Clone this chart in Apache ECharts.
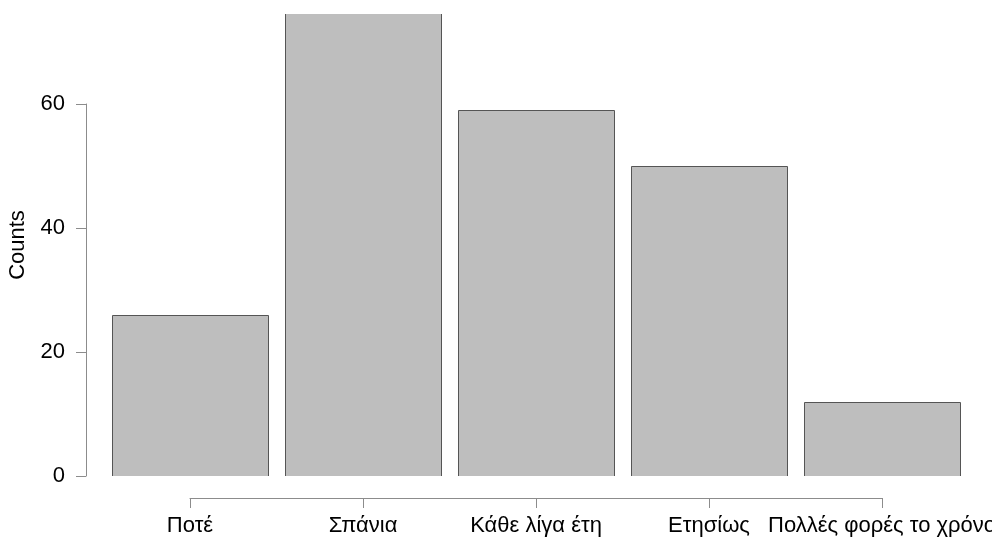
<!DOCTYPE html>
<html><head><meta charset="utf-8">
<script src="https://cdn.jsdelivr.net/npm/echarts@6/dist/echarts.min.js"></script>
<style>html,body{margin:0;padding:0;background:#fff}#c{width:992px;height:539px}</style>
</head><body><div id="c"></div>
<script>
const categories = ['Ποτέ', 'Σπάνια', 'Κάθε λίγα έτη', 'Ετησίως', 'Πολλές φορές το χρόνο'];
const counts = [26, 80, 59, 50, 12];
const yTicks = [0, 20, 40, 60];

const FONT = 'Liberation Sans, Arial, Helvetica, sans-serif';
const FS = 22;
const axisMax = yTicks[yTicks.length - 1];
// main plot spans y px 14..476, axis 0..60 spans 104..476
const plotMax = axisMax * (476 - 14) / (476 - 104);
const barFrac = 156 / 173;

const chart = echarts.init(document.getElementById('c'), null, {renderer: 'canvas'});
chart.setOption({
  animation: false,
  backgroundColor: '#ffffff',
  grid: [
    {left: 103.5, right: 23.5, top: 14, bottom: 63, containLabel: false, outerBoundsMode: 'none'},
    {left: 86, right: 23.5, top: 104, bottom: 63, containLabel: false, outerBoundsMode: 'none'},
    {left: 190, right: 110, top: 300, bottom: 41, containLabel: false, outerBoundsMode: 'none'}
  ],
  xAxis: [
    {gridIndex: 0, type: 'category', data: categories, show: false},
    {gridIndex: 1, type: 'value', show: false},
    {gridIndex: 2, type: 'category', data: categories, boundaryGap: false,
     axisLine: {show: true, lineStyle: {color: '#8c8c8c', width: 1}},
     axisTick: {show: true, length: 10, alignWithLabel: true, lineStyle: {color: '#8c8c8c'}},
     axisLabel: {show: true, interval: 0, color: '#000', fontSize: FS, fontFamily: FONT, margin: 17,
       hideOverlap: false},
     splitLine: {show: false}}
  ],
  yAxis: [
    {gridIndex: 0, type: 'value', min: 0, max: plotMax,
     axisLine: {show: false}, axisTick: {show: false}, axisLabel: {show: false}, splitLine: {show: false},
     name: 'Counts', nameLocation: 'middle', nameRotate: 90, nameGap: 75,
     nameTextStyle: {color: '#000', fontSize: FS, fontFamily: FONT}},
    {gridIndex: 1, type: 'value', min: 0, max: axisMax, interval: 20,
     axisLine: {show: true, lineStyle: {color: '#8c8c8c', width: 1}},
     axisTick: {show: true, length: 10, lineStyle: {color: '#8c8c8c'}},
     axisLabel: {show: true, color: '#000', fontSize: FS, fontFamily: FONT, margin: 21,
       formatter: v => yTicks.includes(v) ? String(v) : ''},
     splitLine: {show: false}},
    {gridIndex: 2, type: 'value', show: false}
  ],
  series: [{
    type: 'custom', xAxisIndex: 0, yAxisIndex: 0,
    data: counts.map((v, i) => [i, v]),
    encode: {x: 0, y: 1},
    clip: true,
    renderItem: function (params, api) {
      const i = api.value(0), v = api.value(1);
      const base = api.coord([i, 0]);
      const top = api.coord([i, v]);
      const w = api.size([1, 0])[0] * barFrac;
      const cs = params.coordSys;
      const clipped = top[1] < cs.y;
      const yTop = clipped ? cs.y : Math.round(top[1]) + 0.5;
      const x0 = Math.round(base[0] - w / 2) + 0.5;
      const x1 = Math.round(base[0] + w / 2) + 0.5;
      const yb = Math.round(base[1]) + 0.5;
      const pts = clipped
        ? [[x0, yTop], [x0, yb], [x1, yb], [x1, yTop]]
        : [[x0, yTop], [x0, yb], [x1, yb], [x1, yTop], [x0, yTop]];
      return {
        type: 'group',
        children: [
          {type: 'rect', shape: {x: x0, y: yTop, width: x1 - x0, height: yb - yTop},
           style: {fill: '#bebebe', stroke: null}},
          {type: 'polyline', shape: {points: pts},
           style: {fill: null, stroke: '#555555', lineWidth: 1}}
        ]
      };
    }
  }]
});
</script></body></html>
